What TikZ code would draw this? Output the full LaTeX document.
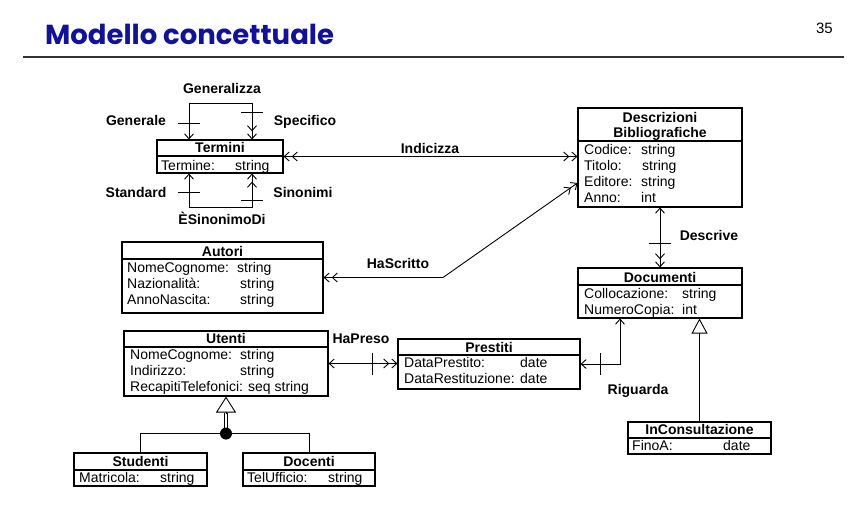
\documentclass[tikz,border=0pt]{standalone}
\usepackage{fontspec}
\setmainfont{Liberation Sans}
\newfontfamily\titlefont{Poppins}
\usetikzlibrary{arrows.meta,calc,fit}
\definecolor{titleblue}{RGB}{18,18,150}
\tikzset{
  onetip/.tip={Straight Barb[length=5pt,width=9pt]},
  manytip/.tip={Straight Barb[length=5pt,width=9pt,sep=2pt]Straight Barb[length=5pt,width=9pt]},
  box/.style={draw, line width=1.1pt, inner sep=0pt},
  divline/.style={line width=1.1pt},
  conn/.style={line width=0.9pt},
  hdr/.style={font=\fontsize{14}{16}\selectfont\bfseries, anchor=base, inner sep=0pt},
  lbl/.style={font=\fontsize{14}{16}\selectfont\bfseries, anchor=base, inner sep=0pt},
  att/.style={font=\fontsize{14}{16}\selectfont, anchor=base west, inner sep=0pt},
  dotstyle/.style={circle, fill, inner sep=0pt, minimum size=12pt},
}
\begin{document}
\begin{tikzpicture}[x=1pt,y=-1pt]
\fill[white] (0,0) rectangle (859,520);
\useasboundingbox (0,0) rectangle (859,520);

% title
\node[anchor=base west, inner sep=0pt, text=titleblue, font=\titlefont\bfseries\fontsize{27.5}{30}\selectfont] (title) at (45,44) {Modello concettuale};
\node[anchor=base east, inner sep=0pt, font=\fontsize{15}{17}\selectfont] (pageno) at (833,33) {35};
\draw[line width=1.5pt, black!80] (23,57) -- (844,57);

% Termini
\node[box, fit={(157,140)(283,173)}] (termini) {};
\draw[divline] (157,156) -- (283,156);
\node[hdr] (termini-h) at (220,152) {Termini};
\node[att] (termini-a1) at (161,170) {Termine:};
\node[att] (termini-v1) at (235,170) {string};

% Descrizioni Bibliografiche
\node[box, fit={(578,108)(742,207)}] (descr) {};
\draw[divline] (578,141) -- (742,141);
\node[hdr] (descr-h1) at (660,122) {Descrizioni};
\node[hdr] (descr-h2) at (660,137) {Bibliografiche};
\node[att] (descr-a1) at (584,154) {Codice:};
\node[att] (descr-v1) at (641,154) {string};
\node[att] (descr-a2) at (584,170) {Titolo:};
\node[att] (descr-v2) at (642,170) {string};
\node[att] (descr-a3) at (584,186) {Editore:};
\node[att] (descr-v3) at (641,186) {string};
\node[att] (descr-a4) at (584,202) {Anno:};
\node[att] (descr-v4) at (641,202) {int};

% Autori
\node[box, fit={(122,242)(323,313)}] (autori) {};
\draw[divline] (122,259) -- (323,259);
\node[hdr] (autori-h) at (222.5,256) {Autori};
\node[att] (autori-a1) at (127,272) {NomeCognome:};
\node[att] (autori-v1) at (237,272) {string};
\node[att] (autori-a2) at (127,288) {Nazionalità:};
\node[att] (autori-v2) at (240,288) {string};
\node[att] (autori-a3) at (127,304) {AnnoNascita:};
\node[att] (autori-v3) at (240,304) {string};

% Documenti
\node[box, fit={(578,268)(742,318)}] (docum) {};
\draw[divline] (578,285) -- (742,285);
\node[hdr] (docum-h) at (660,282) {Documenti};
\node[att] (docum-a1) at (584,298) {Collocazione:};
\node[att] (docum-v1) at (682,298) {string};
\node[att] (docum-a2) at (584,314) {NumeroCopia:};
\node[att] (docum-v2) at (682,314) {int};

% Utenti
\node[box, fit={(124,331)(328,396)}] (utenti) {};
\draw[divline] (124,347) -- (328,347);
\node[hdr] (utenti-h) at (226,343) {Utenti};
\node[att] (utenti-a1) at (130,359) {NomeCognome:};
\node[att] (utenti-v1) at (240,359) {string};
\node[att] (utenti-a2) at (130,375) {Indirizzo:};
\node[att] (utenti-v2) at (240,375) {string};
\node[att] (utenti-a3) at (130,391) {RecapitiTelefonici: seq string};

% Prestiti
\node[box, fit={(398,339)(580,389)}] (prestiti) {};
\draw[divline] (398,355) -- (580,355);
\node[hdr] (prestiti-h) at (489,352) {Prestiti};
\node[att] (prestiti-a1) at (404,367) {DataPrestito:};
\node[att] (prestiti-v1) at (520,367) {date};
\node[att] (prestiti-a2) at (404,383) {DataRestituzione:};
\node[att] (prestiti-v2) at (520,383) {date};

% Studenti
\node[box, fit={(74,453)(207,486)}] (studenti) {};
\draw[divline] (74,470) -- (207,470);
\node[hdr] (studenti-h) at (140.5,466) {Studenti};
\node[att] (studenti-a1) at (79,482) {Matricola:};
\node[att] (studenti-v1) at (160,482) {string};

% Docenti
\node[box, fit={(243,453)(375,486)}] (docenti) {};
\draw[divline] (243,470) -- (375,470);
\node[hdr] (docenti-h) at (309,466) {Docenti};
\node[att] (docenti-a1) at (247,482) {TelUfficio:};
\node[att] (docenti-v1) at (328,482) {string};

% InConsultazione
\node[box, fit={(628,422)(771,454)}] (incons) {};
\draw[divline] (628,438) -- (771,438);
\node[hdr] (incons-h) at (699.5,434) {InConsultazione};
\node[att] (incons-a1) at (632,450) {FinoA:};
\node[att] (incons-v1) at (723,450) {date};

% Generalizza loop
\coordinate (gl) at (189,103);
\coordinate (gr) at (252,103);
\draw[conn, {onetip}-{manytip}] (gl |- termini.north) -- (gl) -- (gr) -- (gr |- termini.north);
\draw[conn] ($(gl)+(-11,20)$) -- ++(22,0);
\draw[conn] ($(gr)+(-11,9)$) -- ++(22,0);

% ESinonimoDi loop
\coordinate (sl) at (189,207);
\coordinate (sr) at (252,207);
\draw[conn, {onetip}-{manytip}] (sl |- termini.south) -- (sl) -- (sr) -- (sr |- termini.south);
\draw[conn] ($(sl)+(-11,-15)$) -- ++(22,0);
\draw[conn] ($(sr)+(-11,-7)$) -- ++(22,0);

% Indicizza
\draw[conn, {manytip}-{manytip}] (termini.east) -- (termini.east -| descr.west);

% HaScritto
\coordinate (hs) at (443,277);
\draw[conn, {manytip}-{manytip}] (autori.east) -- (autori.east -| hs) -- ($(descr.west)+(0,25.5)$);

% Descrive
\draw[conn, {onetip}-{manytip}] (descr.south) -- (docum.north);
\draw[conn] ($(descr.south)+(-11,36)$) -- ++(22,0);

% HaPreso
\draw[conn, {onetip}-{manytip}] (utenti.east) -- (utenti.east -| prestiti.west);
\draw[conn] ($(utenti.east)+(44,-11)$) -- ++(0,22);

% Riguarda
\coordinate (rg) at (620,364);
\draw[conn, {onetip}-{onetip}] (prestiti.east) -- (prestiti.east -| rg) -- (rg |- docum.south);
\draw[conn] ($(prestiti.east)+(20,-11)$) -- ++(0,22);

% InConsultazione generalization
\draw[conn, -{Triangle[open,length=15pt,width=16pt]}] (incons.north) -- (incons.north |- docum.south);

% Utenti generalization
\coordinate (dotc) at ($(utenti.south)+(0,37)$);
\draw[conn] (studenti.north) |- (dotc) -| (docenti.north);
\draw[conn, double, double distance=2.5pt] (dotc) -- ($(utenti.south)+(0,16)$);
\draw[conn, -{Triangle[open,length=16pt,width=20pt]}] ($(utenti.south)+(0,17)$) -- (utenti.south);
\node[dotstyle] (dot) at (dotc) {};

% labels
\node[lbl] (l-gen) at (222,93) {Generalizza};
\node[lbl] (l-generale) at (136,125) {Generale};
\node[lbl] (l-spec) at (305,125) {Specifico};
\node[lbl] (l-std) at (136,197) {Standard};
\node[lbl] (l-sin) at (303,197) {Sinonimi};
\node[lbl] (l-esin) at (222,224) {ÈSinonimoDi};
\node[lbl] (l-ind) at (430,153) {Indicizza};
\node[lbl] (l-hs) at (398,268) {HaScritto};
\node[lbl] (l-des) at (709,240) {Descrive};
\node[lbl] (l-hp) at (361,343) {HaPreso};
\node[lbl] (l-rig) at (638,394) {Riguarda};
\end{tikzpicture}
\end{document}
